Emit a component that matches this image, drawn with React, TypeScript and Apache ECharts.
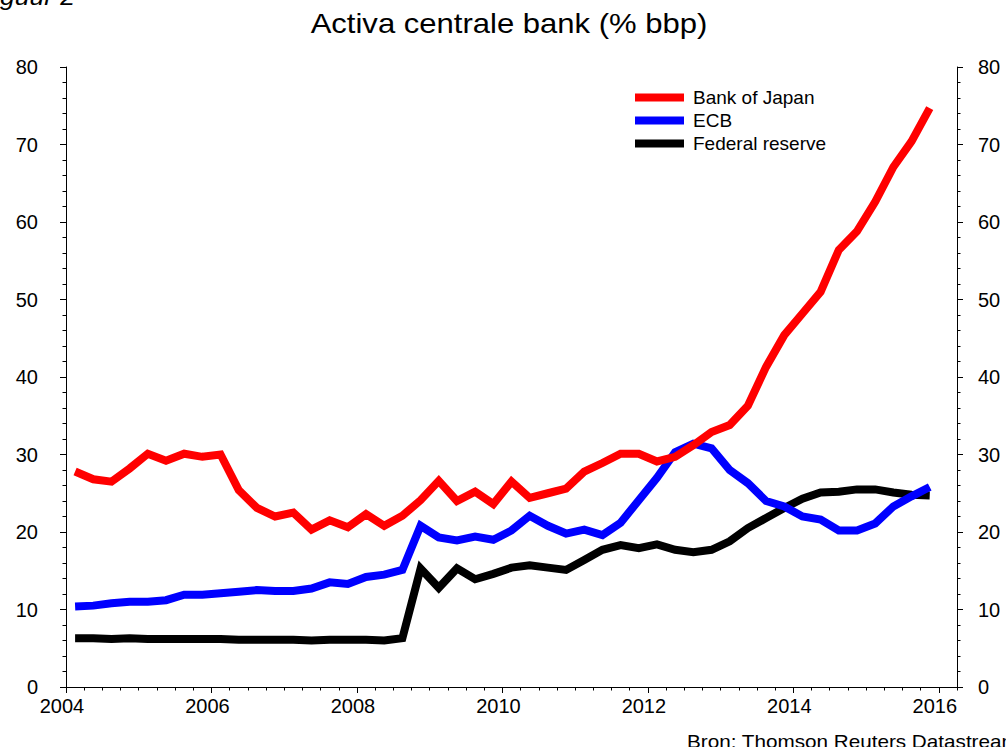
import React, { useEffect, useRef } from "react";
import * as echarts from "echarts";

// Quarterly observations, plotted at mid-quarter (2004 Q1 .. 2015 Q4)
const startYear = 2004;
const quarterCount = 48;
const quarterDates: number[] = Array.from({ length: quarterCount }, (_, i) => startYear + 0.125 + i * 0.25);

const bankOfJapan = [
  27.8, 26.8, 26.5, 28.2, 30.1, 29.2, 30.1, 29.7, 30.0, 25.4, 23.1, 22.0,
  22.5, 20.3, 21.5, 20.6, 22.3, 20.8, 22.1, 24.1, 26.6, 24.0, 25.2, 23.6,
  26.5, 24.4, 25.0, 25.6, 27.8, 28.9, 30.1, 30.1, 29.1, 29.7, 31.2, 32.9,
  33.8, 36.3, 41.3, 45.4, 48.2, 51.0, 56.4, 58.8, 62.6, 67.1, 70.4, 74.7,
];
const ecb = [
  10.4, 10.5, 10.8, 11.0, 11.0, 11.2, 11.9, 11.9, 12.1, 12.3, 12.5, 12.4,
  12.4, 12.7, 13.5, 13.3, 14.2, 14.5, 15.1, 20.8, 19.3, 18.9, 19.4, 19.0,
  20.2, 22.1, 20.8, 19.8, 20.3, 19.6, 21.2, 24.1, 27.0, 30.3, 31.4, 30.8,
  28.0, 26.3, 24.0, 23.3, 22.0, 21.6, 20.2, 20.2, 21.1, 23.3, 24.6, 25.8,
];
const federalReserve = [
  6.3, 6.3, 6.2, 6.3, 6.2, 6.2, 6.2, 6.2, 6.2, 6.1, 6.1, 6.1,
  6.1, 6.0, 6.1, 6.1, 6.1, 6.0, 6.3, 15.3, 12.8, 15.3, 13.9, 14.6,
  15.4, 15.7, 15.4, 15.1, 16.4, 17.7, 18.3, 17.9, 18.4, 17.7, 17.4, 17.7,
  18.8, 20.5, 21.8, 23.1, 24.3, 25.1, 25.2, 25.5, 25.5, 25.1, 24.8, 24.7,
];

const seriesNames = ["Bank of Japan", "ECB", "Federal reserve"];
const seriesColors = ["#ff0000", "#0000ff", "#000000"];
const seriesValues = [bankOfJapan, ecb, federalReserve];

const titleText = "Activa centrale bank (% bbp)";
const figureText = "Figuur 2";
const sourceText = "Bron: Thomson Reuters Datastream";

const xMin = 2004;
const xMax = 2016.25;
const yMin = 0;
const yMax = 80;
const yInterval = 10;
const xLabelInterval = 2;
const xMinorInterval = 0.25;

const FONT = "'Liberation Sans', Arial, Helvetica, sans-serif";

export default function App() {
  const ref = useRef<HTMLDivElement | null>(null);

  useEffect(() => {
    if (!ref.current) return;
    const chart = echarts.init(ref.current, undefined, { renderer: "svg" });

    const yAxisCommon = (position: "left" | "right", margin: number) => ({
      type: "value",
      position,
      min: yMin,
      max: yMax,
      interval: yInterval,
      axisLine: { show: true, lineStyle: { color: "#000", width: 1 } },
      axisTick: { show: true, inside: false, length: 6, lineStyle: { color: "#000" } },
      minorTick: { show: true, splitNumber: 5, length: 3.5, lineStyle: { color: "#000" } },
      splitLine: { show: false },
      axisLabel: {
        margin,
        color: "#000",
        fontFamily: FONT,
        fontSize: 20,
        padding: [0, 0, 7, 0],
      },
    });

    chart.setOption({
      animation: false,
      backgroundColor: "#fff",
      grid: { left: 66, right: 49, top: 67, bottom: 60, containLabel: false },
      legend: {
        orient: "vertical",
        left: 630,
        top: 83,
        itemWidth: 49,
        itemHeight: 8,
        itemGap: 4,
        icon: "rect",
        data: seriesNames,
        textStyle: { color: "#000", fontFamily: FONT, fontSize: 19, padding: [0, 0, 0, 4] },
      },
      xAxis: [
        {
          type: "value",
          position: "bottom",
          min: xMin,
          max: xMax,
          interval: xMinorInterval,
          axisLine: { show: true, onZero: false, lineStyle: { color: "#000", width: 1 } },
          axisTick: { show: true, inside: false, length: 3.5, lineStyle: { color: "#000" } },
          axisLabel: { show: false },
          splitLine: { show: false },
        },
        {
          type: "value",
          position: "bottom",
          offset: 0,
          min: xMin,
          max: xMax,
          interval: xLabelInterval,
          axisLine: { show: false, onZero: false },
          axisTick: { show: true, inside: false, length: 6, lineStyle: { color: "#000" } },
          axisLabel: {
            show: true,
            margin: 9,
            color: "#000",
            fontFamily: FONT,
            fontSize: 20,
            padding: [0, 8, 0, 0],
            showMaxLabel: false,
            formatter: (v: number) => {
              const r = Math.round(v);
              return Math.abs(v - r) < 1e-6 && r % 2 === 0 ? String(r) : "";
            },
          },
          splitLine: { show: false },
        },
      ],
      yAxis: [yAxisCommon("left", 28), yAxisCommon("right", 21)],
      series: seriesNames.map((name, k) => ({
        name,
        type: "line",
        xAxisIndex: 0,
        yAxisIndex: 0,
        showSymbol: false,
        symbol: "none",
        color: seriesColors[k],
        lineStyle: { color: seriesColors[k], width: 8, cap: "butt", join: "miter" },
        data: quarterDates.map((d, i) => [d, seriesValues[k][i]]),
        z: 3 - k + 2,
      })),
      graphic: [
        {
          type: "text",
          x: 509,
          y: 24,
          scaleX: 1.15,
          style: {
            text: titleText,
            x: 0,
            y: 0,
            align: "center",
            verticalAlign: "middle",
            fontFamily: FONT,
            fontSize: 27,
            fill: "#000",
          },
        },
        {
          type: "text",
          x: 75,
          y: -3,
          scaleX: 1.15,
          style: {
            text: figureText,
            x: 0,
            y: 0,
            align: "right",
            verticalAlign: "middle",
            fontFamily: FONT,
            fontStyle: "italic",
            fontSize: 23,
            fill: "#000",
          },
        },
        {
          type: "text",
          x: 687,
          y: 741.5,
          scaleX: 1.15,
          style: {
            text: sourceText,
            x: 0,
            y: 0,
            align: "left",
            verticalAlign: "middle",
            fontFamily: FONT,
            fontSize: 18,
            fill: "#000",
          },
        },
      ],
    });

    return () => {
      chart.dispose();
    };
  }, []);

  return (
    <div
      ref={ref}
      style={{ position: "fixed", left: 0, top: 0, width: 1006, height: 747, background: "#fff" }}
    />
  );
}
